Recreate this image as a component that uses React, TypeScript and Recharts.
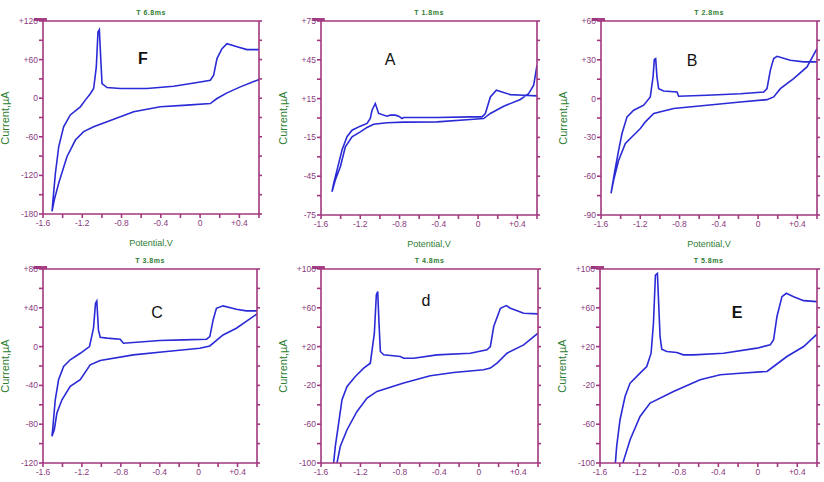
import React from 'react';
import { LineChart, Line, XAxis, YAxis } from 'recharts';

// ---------- shared axis ticks ----------
const xTicks = [-1.6, -1.4, -1.2, -1.0, -0.8, -0.6, -0.4, -0.2, 0, 0.2, 0.4, 0.6];
const xMajor = [-1.6, -1.2, -0.8, -0.4, 0, 0.4];

// ---------- panel F ----------
const fV = [0.6, 0.478, 0.376, 0.274, 0.223, 0.172, 0.138, 0.104, 0.002, -0.269, -0.541, -0.812, -0.948, -0.999, -1.016, -1.026, -1.04, -1.057, -1.084, -1.118, -1.169, -1.22, -1.322, -1.39, -1.44, -1.474, -1.498, -1.508,
  -1.485, -1.44, -1.356, -1.27, -1.186, -1.084, -0.948, -0.677, -0.405, -0.134, 0.104, 0.172, 0.274, 0.41, 0.6];
const fI = [75.5, 75.5, 80, 84.8, 77, 61.6, 35.7, 28, 25.3, 18.6, 15, 15, 16.6, 22.8, 74.5, 106.6, 103, 48.6, 15, 7, -3, -13.4, -26, -44.5, -75.5, -117, -158, -176,
  -158, -132, -91, -65, -52, -44.5, -36.7, -21, -13.4, -10.8, -8.3, -0.5, 8.3, 17.6, 29];
const fTicks = [120, 90, 60, 30, 0, -30, -60, -90, -120, -150, -180];
const fMajor = [120, 60, 0, -60, -120, -180];

// ---------- panel A ----------
const aV = [0.6, 0.464, 0.328, 0.186, 0.125, 0.074, 0.04, -0.079, -0.418, -0.758, -0.775, -0.809, -0.843, -0.894, -0.928, -1.013, -1.047, -1.08, -1.098, -1.131, -1.2, -1.284, -1.335, -1.386, -1.437, -1.471, -1.488,
  -1.454, -1.403, -1.352, -1.284, -1.2, -1.131, -1.064, -0.928, -0.758, -0.418, -0.079, 0.057, 0.125, 0.261, 0.43, 0.515, 0.566, 0.6];
const aI = [17.1, 17.6, 18.1, 21.5, 16.3, 3.5, 0.9, 0.9, 0.4, 0.4, -0.4, 1.4, 2.2, 2.2, 1.4, 3.5, 11.2, 6, -0.4, -4.2, -6.3, -9.4, -14.5, -24.8, -40.3, -50.6, -57,
  -48, -37.7, -22.3, -14.5, -10.7, -7.3, -4.8, -3.7, -3.2, -3, -1.2, -0.4, 3.5, 9.1, 14.3, 18.9, 25.3, 40.8];
const aTicks = [75, 60, 45, 30, 15, 0, -15, -30, -45, -60, -75];
const aMajor = [75, 45, 15, -15, -45, -75];

// ---------- panel B ----------
const bV = [0.6, 0.464, 0.328, 0.193, 0.159, 0.125, 0.091, 0.057, -0.181, -0.52, -0.809, -0.826, -0.962, -1.013, -1.03, -1.043, -1.057, -1.07, -1.098, -1.165, -1.267, -1.335, -1.386, -1.42, -1.464, -1.498,
  -1.471, -1.42, -1.352, -1.25, -1.199, -1.148, -1.063, -0.86, -0.52, -0.181, 0.091, 0.159, 0.227, 0.362, 0.498, 0.6];
const bI = [28.4, 28.4, 29.6, 32.7, 31, 22, 7.7, 5.1, 3.8, 2.6, 1.8, 5.1, 5.9, 7.7, 16.7, 30.9, 30.2, 16.7, 1.3, -5.1, -9, -14.1, -27, -39.8, -57.8, -73.3,
  -63, -47.6, -34.7, -27, -23.1, -18, -11.5, -7.7, -5.1, -2.6, -0.8, 1.3, 7.7, 15.5, 24.5, 38.6];
const bTicks = [60, 45, 30, 15, 0, -15, -30, -45, -60, -75, -90];
const bMajor = [60, 30, 0, -30, -60, -90];

// ---------- panel C ----------
const cV = [0.6, 0.491, 0.388, 0.251, 0.183, 0.149, 0.115, 0.081, -0.158, -0.398, -0.773, -0.807, -0.944, -1.012, -1.03, -1.047, -1.06, -1.081, -1.122, -1.217, -1.32, -1.388, -1.44, -1.474, -1.501, -1.508,
  -1.484, -1.457, -1.405, -1.32, -1.217, -1.115, -1.012, -0.671, -0.329, 0.012, 0.115, 0.251, 0.388, 0.6];
const cI = [36.8, 36.8, 38.5, 42, 39.5, 27.5, 10.3, 7.6, 6.9, 6.3, 3.5, 7.6, 8.7, 9.7, 17.2, 47, 44.7, 19, 0, -6.9, -13.6, -20.5, -34.2, -54.8, -85.7, -92.5,
  -85.7, -68.5, -54.8, -41, -34.2, -18.8, -14.3, -8.5, -5, -1.7, 0.7, 12, 18.9, 33.7];
const cTicks = [80, 60, 40, 20, 0, -20, -40, -60, -80, -100, -120];
const cMajor = [80, 40, 0, -40, -80, -120];

// ---------- panel d ----------
const dV = [0.6, 0.455, 0.32, 0.279, 0.219, 0.151, 0.117, 0.083, -0.086, -0.424, -0.66, -0.762, -0.796, -0.965, -0.998, -1.012, -1.025, -1.039, -1.059, -1.1, -1.167, -1.252, -1.336, -1.387, -1.421, -1.455, -1.472, -1.48,
  -1.44, -1.438, -1.404, -1.336, -1.235, -1.133, -1.032, -0.762, -0.492, -0.255, 0.049, 0.117, 0.185, 0.286, 0.455, 0.6];
const dI = [53.7, 54.4, 59.5, 62.3, 59.5, 40.7, 20, 16.7, 13.2, 11.5, 8, 8, 9.8, 11.5, 15, 44, 76.7, 73.2, 33.8, 2.9, -2.2, -10.8, -21, -34.8, -58.8, -82.8, -100, -110,
  -110, -100, -82.8, -65.7, -46.8, -33.1, -26.2, -17.6, -10.1, -6.7, -3.9, -2.2, 2.9, 13.2, 21.8, 33.8];
const dTicks = [100, 80, 60, 40, 20, 0, -20, -40, -60, -80, -100];
const dMajor = [100, 60, 20, -20, -60, -100];

// ---------- panel E ----------
const eV = [0.6, 0.465, 0.363, 0.289, 0.245, 0.194, 0.16, 0.126, -0.009, -0.348, -0.652, -0.754, -0.821, -0.923, -0.974, -0.991, -1.018, -1.038, -1.058, -1.082, -1.126, -1.194, -1.295, -1.346, -1.397, -1.431, -1.444, -1.451,
  -1.385, -1.363, -1.295, -1.194, -1.092, -0.855, -0.585, -0.381, -0.178, 0.093, 0.16, 0.295, 0.465, 0.6];
const eI = [66.4, 67.4, 71.5, 75, 71.5, 51, 27, 21.8, 18.4, 13.2, 11.5, 11.5, 13.9, 15, 17.3, 30.4, 95.5, 93.8, 44, 13.2, -0.5, -7.4, -17.6, -31.4, -55.4, -82.8, -100, -110,
  -110, -98.3, -76, -52, -38.2, -26.2, -14.2, -9.1, -7.4, -5.6, -0.5, 9.8, 20.1, 32.8];
const eTicks = [100, 80, 60, 40, 20, 0, -20, -40, -60, -80, -100];
const eMajor = [100, 60, 20, -20, -60, -100];

// ---------- text ----------
const titles = ['T 6.8ms', 'T 1.8ms', 'T 2.8ms', 'T 3.8ms', 'T 4.8ms', 'T 5.8ms'];
const letters = ['F', 'A', 'B', 'C', 'd', 'E'];
const xLabel = 'Potential,V';
const yLabel = 'Current,\u00b5A';

// ---------- styles ----------
const AXIS = '#a3377f';
const TICKTXT = '#8a3a7e';
const GREEN = '#2e7d32';
const BLUE = '#2a2ad6';
const FONT = '"Liberation Sans", Arial, sans-serif';

const zip = (v: number[], i: number[]) => v.map((x, k) => ({ v: x, i: i[k] }));

const panels = [
  { V: fV, I: fI, ticks: fTicks, major: fMajor, left: 43, top: 21, w: 216, h: 193, lx: 143, ly: 59, bold: true, showX: true },
  { V: aV, I: aI, ticks: aTicks, major: aMajor, left: 321, top: 21, w: 216, h: 194, lx: 390, ly: 60, bold: false, showX: true },
  { V: bV, I: bI, ticks: bTicks, major: bMajor, left: 601, top: 21, w: 216, h: 194, lx: 692, ly: 61, bold: false, showX: true },
  { V: cV, I: cI, ticks: cTicks, major: cMajor, left: 43, top: 269, w: 214, h: 194, lx: 157, ly: 313, bold: false, showX: false },
  { V: dV, I: dI, ticks: dTicks, major: dMajor, left: 321, top: 269, w: 217, h: 194, lx: 426, ly: 301, bold: false, showX: false },
  { V: eV, I: eI, ticks: eTicks, major: eMajor, left: 600, top: 269, w: 217, h: 194, lx: 737, ly: 313, bold: true, showX: false },
];

const isIn = (list: number[], v: number) => list.some((m) => Math.abs(m - v) < 1e-6);
const fmt = (v: number) => (Math.abs(v) < 1e-9 ? '0' : v > 0 ? '+' + v : String(v));

const XTick = (props: any) => {
  const { x, y, payload } = props;
  if (!isIn(xMajor, payload.value)) return <g />;
  return (
    <text x={x} y={y} dy="0.71em" textAnchor="middle" fontSize={8.5} fill={TICKTXT} fontFamily={FONT}>
      {fmt(payload.value)}
    </text>
  );
};

const makeYTick = (major: number[]) => (props: any) => {
  const { x, y, payload } = props;
  if (!isIn(major, payload.value)) return <g />;
  return (
    <text x={x} y={y} dy="0.35em" textAnchor="end" fontSize={8.5} fill={TICKTXT} fontFamily={FONT}>
      {fmt(payload.value)}
    </text>
  );
};

const Blank = () => <g />;

const Abs = ({ x, y, children, style }: any) => (
  <div
    style={{
      position: 'absolute',
      left: x,
      top: y,
      transform: 'translate(-50%, -50%)',
      whiteSpace: 'nowrap',
      lineHeight: 1,
      fontFamily: FONT,
      ...style,
    }}
  >
    {children}
  </div>
);

const Panel = ({ p, idx }: any) => {
  const data = zip(p.V, p.I);
  const yDomain = [p.ticks[p.ticks.length - 1], p.ticks[0]];
  const LW = 32;
  const RW = 8;
  const TH = 6;
  const BH = 16;
  const YTick = makeYTick(p.major);
  const cx = p.left + p.w / 2;
  const cy = p.top + p.h / 2;
  return (
    <>
      <div style={{ position: 'absolute', left: p.left - LW, top: p.top - TH }}>
        <LineChart width={LW + p.w + RW} height={TH + p.h + BH} data={data} margin={{ top: 0, right: 0, bottom: 0, left: 0 }}>
          <XAxis xAxisId="b" dataKey="v" type="number" domain={[-1.6, 0.6]} ticks={xTicks} interval={0} allowDataOverflow
            tick={XTick} tickSize={4} tickMargin={2} height={BH} stroke={AXIS} strokeWidth={1.6} />
          <XAxis xAxisId="t" orientation="top" type="number" domain={[-1.6, 0.6]} ticks={xTicks} interval={0} allowDataOverflow
            tick={Blank} tickSize={3} height={TH} stroke={AXIS} strokeWidth={1.6} />
          <YAxis yAxisId="l" type="number" domain={yDomain} ticks={p.ticks} interval={0} allowDataOverflow
            tick={YTick} tickSize={4} tickMargin={1} width={LW} stroke={AXIS} strokeWidth={1.6} />
          <YAxis yAxisId="r" orientation="right" type="number" domain={yDomain} ticks={p.ticks} interval={0} allowDataOverflow
            tick={Blank} tickSize={3} width={RW} stroke={AXIS} strokeWidth={1.6} />
          <Line xAxisId="b" yAxisId="l" dataKey="i" type="linear" stroke={BLUE} strokeWidth={1.6} dot={false}
            isAnimationActive={false} />
        </LineChart>
      </div>
      <Abs x={cx} y={p.top - 9} style={{ fontSize: 7, color: GREEN, fontWeight: 'bold', letterSpacing: 0.5 }}>{titles[idx]}</Abs>
      {p.showX && <Abs x={cx} y={p.top + p.h + 29} style={{ fontSize: 9, color: GREEN }}>{xLabel}</Abs>}
      <Abs x={p.left - 38} y={cy} style={{ fontSize: 11, color: GREEN, transform: 'translate(-50%, -50%) rotate(-90deg)' }}>{yLabel}</Abs>
      <Abs x={p.lx} y={p.ly} style={{ fontSize: 16, color: '#111', fontWeight: p.bold ? 'bold' : 'normal' }}>{letters[idx]}</Abs>
    </>
  );
};

export default function App() {
  return (
    <div style={{ position: 'absolute', left: 0, top: 0, width: 824, height: 482, overflow: 'hidden', background: '#fff' }}>
      {panels.map((p, k) => (
        <Panel key={k} p={p} idx={k} />
      ))}
    </div>
  );
}
